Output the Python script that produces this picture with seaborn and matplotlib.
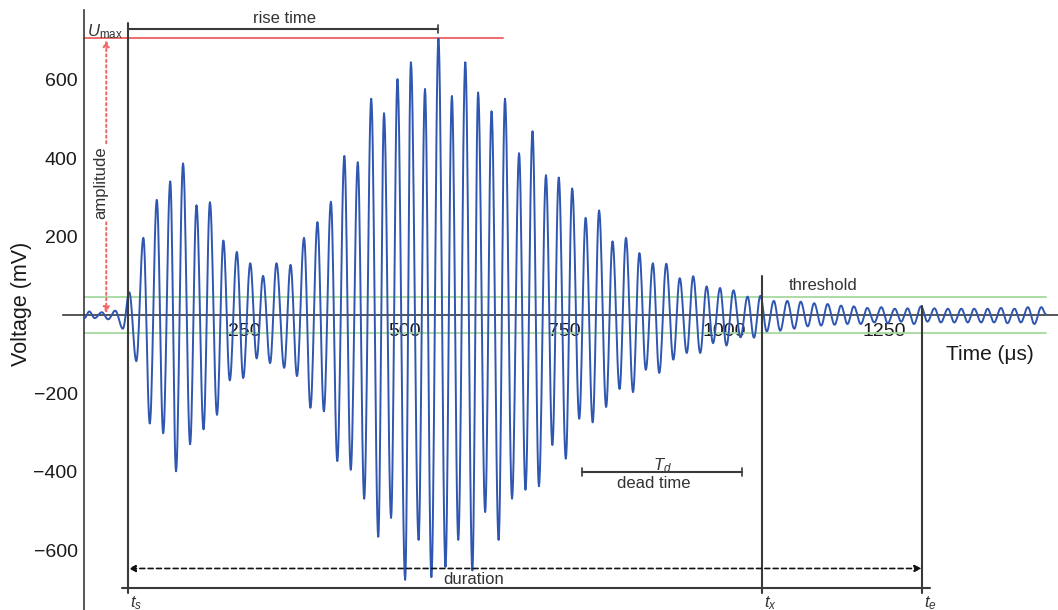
import numpy as np
import pandas as pd
import matplotlib
matplotlib.use("Agg")
import matplotlib.pyplot as plt
from matplotlib.ticker import MultipleLocator, FixedLocator
import seaborn as sns

# Successive turning points of the recorded burst: time (µs) and voltage (mV)
extrema_t = [0, 7.5, 16, 27, 37, 48, 60, 70, 81, 92, 102, 113, 123, 134, 143, 154,
             165, 175, 186, 196, 207, 217, 227, 238, 248, 259, 269, 279, 290, 300,
             312, 322, 332, 343, 353, 364, 374, 385, 395, 406, 416, 427, 437, 448,
             459, 468, 479, 489, 501, 510, 522, 532, 542, 553, 564, 574, 584, 595,
             606, 615, 626, 636, 647, 657, 668, 679, 689, 700, 710, 721, 731, 741,
             752, 762, 773, 783, 794, 804, 815, 825, 836, 846, 857, 867, 877, 888,
             898, 909, 920, 930, 941, 951, 962, 972, 982, 993, 1003, 1014, 1025,
             1036, 1046, 1056, 1066, 1077, 1087, 1098, 1109, 1119, 1130, 1140, 1151,
             1161, 1172, 1182, 1192, 1202, 1213, 1223, 1234, 1245, 1255, 1266, 1276,
             1286, 1296, 1307, 1317, 1328, 1338, 1349, 1359, 1370, 1380, 1390, 1401,
             1411, 1421, 1432, 1442, 1453, 1463, 1474, 1484, 1495, 1502]
extrema_v = [-8, 9, -8, 7, -11, 11, -35, 58, -118, 197, -277, 294, -302, 341, -399, 387,
             -330, 280, -292, 288, -255, 190, -167, 161, -161, 132, -111, 100, -123, 132,
             -135, 128, -156, 197, -237, 237, -246, 289, -373, 406, -395, 390, -469, 552,
             -566, 515, -518, 602, -676, 645, -574, 577, -669, 706, -643, 559, -574, 645,
             -652, 568, -503, 520, -574, 552, -469, 413, -446, 469, -437, 357, -332, 351,
             -367, 323, -265, 248, -274, 267, -235, 188, -189, 197, -197, 158, -140, 132,
             -148, 131, -114, 94, -97, 99, -97, 73, -72, 69, -78, 63, -57,
             47, -58, 49, -42, 36, -40, 36, -35, 34, -29, 30, -27,
             28, -25, 24, -23, 22, -23, 18, -19, 20, -21, 16, -17,
             17, -23, 22, -17, 17, -19, 16, -19, 16, -19, 16, -19,
             16, -19, 18, -21, 16, -19, 20, -23, 20, 2]

# Feature markers (µs / mV)
threshold = 47
u_max = 706
t_s, t_x, t_e = 68, 1058, 1309
rise_end = 553
umax_line_end = 654
dead_start, dead_end = 777, 1028
x_ticks = [250, 500, 750, 1000, 1250]
y_ticks = [-600, -400, -200, 200, 400, 600]

# Smooth half-cosine swing between consecutive turning points
seg_t, seg_v = [], []
for i in range(len(extrema_t) - 1):
    s = np.linspace(0, 1, 14, endpoint=False)
    seg_t.append(extrema_t[i] + (extrema_t[i + 1] - extrema_t[i]) * s)
    seg_v.append(extrema_v[i] + (extrema_v[i + 1] - extrema_v[i]) * (1 - np.cos(np.pi * s)) / 2)
seg_t.append([extrema_t[-1]])
seg_v.append([extrema_v[-1]])
signal = pd.DataFrame({"time": np.concatenate(seg_t), "voltage": np.concatenate(seg_v)})

sns.set_style("white")
plt.rcParams["font.family"] = ["Liberation Sans", "DejaVu Sans"]
plt.rcParams["mathtext.fontset"] = "custom"
plt.rcParams["mathtext.rm"] = "Liberation Sans"
plt.rcParams["mathtext.it"] = "Liberation Sans:italic"

fig = plt.figure(figsize=(10.58, 6.10), dpi=100)
ax = fig.add_axes([0, 0, 1, 1])
ax.set_xlim(-132, 1521)
ax.set_ylim(-753, 804)
ax.patch.set_alpha(0)

AX_C = "#3a3a3a"
TXT_C = "#333333"

# threshold band
for lv in (threshold, -threshold):
    ax.plot([0, 1503], [lv, lv], color="#a6d9a0", lw=1.3, zorder=1)

# waveform
sns.lineplot(data=signal, x="time", y="voltage", ax=ax, sort=False, estimator=None,
             color="#2f56b0", lw=1.4, zorder=3)

# maximum amplitude level
ax.plot([0, umax_line_end], [u_max, u_max], color="#f06a6a", lw=1.4, zorder=2)
ax.annotate("", xy=(34, u_max - 4), xytext=(34, 4),
            arrowprops=dict(arrowstyle="<|-|>", color="#f06a6a", lw=1.5, ls=(0, (1, 1.6)),
                            mutation_scale=9, shrinkA=0, shrinkB=0), zorder=2)
ax.text(26, 337, "amplitude", rotation=90, ha="center", va="center", fontsize=12,
        color=TXT_C, bbox=dict(boxstyle="square,pad=0.1", fc="white", ec="none"), zorder=4)
ax.text(32, 722, r"$\mathit{U}_{\mathrm{max}}$", ha="center", va="center", fontsize=12,
        color=TXT_C, zorder=4)

# rise time bar
ax.plot([t_s, rise_end], [730, 730], color=AX_C, lw=1.5, zorder=4)
for tv in (t_s, rise_end):
    ax.plot([tv, tv], [720, 741], color=AX_C, lw=1.2, zorder=4)
ax.text((t_s + rise_end) / 2 + 2, 757, "rise time", ha="center", va="center",
        fontsize=12, color=TXT_C)

# event markers
base_v = -696
ax.plot([t_s, t_s], [745, -710], color=AX_C, lw=1.5, zorder=4)
ax.plot([t_x, t_x], [100, -710], color=AX_C, lw=1.5, zorder=4)
ax.plot([t_e, t_e], [23, -710], color=AX_C, lw=1.5, zorder=4)
ax.plot([58, 1321], [base_v, base_v], color=AX_C, lw=1.5, zorder=4)
for tv, lab in ((t_s, r"$t_s$"), (t_x, r"$t_x$"), (t_e, r"$t_e$")):
    ax.text(tv + 3, -712, lab, ha="left", va="top", fontsize=12, color=TXT_C)

# duration arrow
ax.annotate("", xy=(t_s + 1, -647), xytext=(t_e - 1, -647),
            arrowprops=dict(arrowstyle="<|-|>", color="#111111", lw=1.2, ls=(0, (3, 2)),
                            mutation_scale=10, shrinkA=0, shrinkB=0), zorder=4)
ax.text(608, -674, "duration", ha="center", va="center", fontsize=12, color=TXT_C)

# dead time bar
ax.plot([dead_start, dead_end], [-401, -401], color=AX_C, lw=1.5, zorder=4)
for tv in (dead_start, dead_end):
    ax.plot([tv, tv], [-391, -411], color=AX_C, lw=1.2, zorder=4)
ax.text(903, -384, r"$T_d$", ha="center", va="center", fontsize=12, color=TXT_C)
ax.text(890, -431, "dead time", ha="center", va="center", fontsize=12, color=TXT_C)

ax.text(1154, 75, "threshold", ha="center", va="center", fontsize=12, color=TXT_C)

# axes crossing at the origin
for side in ("top", "right"):
    ax.spines[side].set_visible(False)
ax.spines["left"].set_position(("data", 0))
ax.spines["bottom"].set_position(("data", 0))
ax.spines["left"].set_bounds(-753, 779)
ax.spines["bottom"].set_bounds(-34, 1521)
for side in ("left", "bottom"):
    ax.spines[side].set_color(AX_C)
    ax.spines[side].set_linewidth(1.2)
    ax.spines[side].set_zorder(2.5)

ax.xaxis.set_major_locator(FixedLocator(x_ticks))
ax.xaxis.set_minor_locator(MultipleLocator(50))
ax.yaxis.set_major_locator(FixedLocator(y_ticks))
ax.yaxis.set_minor_locator(MultipleLocator(50))
ax.set_xticklabels([str(v) for v in x_ticks])
ax.set_yticklabels(["\u2212" + str(-v) if v < 0 else str(v) for v in y_ticks])
ax.tick_params(axis="both", which="major", direction="out", length=4, width=0.9,
               color="#777777", labelsize=14, labelcolor="#1a1a1a")
ax.tick_params(axis="both", which="minor", direction="out", length=2.5, width=0.7,
               color="#999999")
ax.tick_params(axis="y", which="major", pad=1)
ax.tick_params(axis="x", which="major", pad=2)
ax.set_xlabel("")
ax.set_ylabel("")

ax.text(-99, 28, "Voltage (mV)", rotation=90, ha="center", va="center", fontsize=15.5,
        color="#1a1a1a")
ax.text(1415, -100, "Time (\u03bcs)", ha="center", va="center", fontsize=15,
        color="#1a1a1a")

fig.savefig("out.png", dpi=100)
